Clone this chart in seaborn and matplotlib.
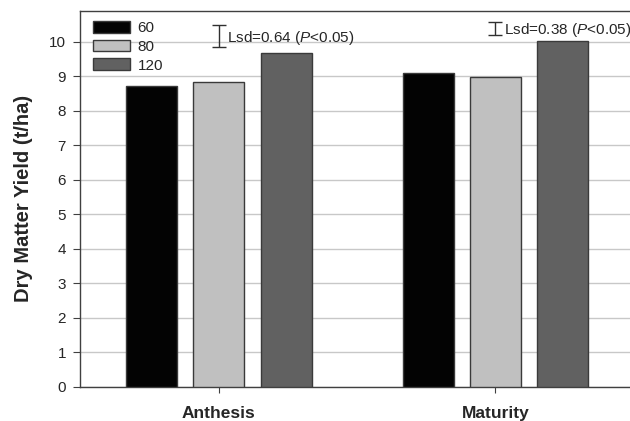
import matplotlib
matplotlib.use('Agg')
import matplotlib.pyplot as plt
import pandas as pd
import seaborn as sns

stages = ['Anthesis', 'Maturity']
rates = ['60', '80', '120']
yield_60 = [8.72, 9.10]
yield_80 = [8.84, 8.99]
yield_120 = [9.67, 10.03]

lsd_labels = ['Lsd=0.64 (', 'Lsd=0.38 (']
lsd_values = [0.64, 0.38]
lsd_centers = [10.18, 10.39]

df = pd.DataFrame({
    'stage': stages * 3,
    'rate': [r for r in rates for _ in stages],
    'yield': yield_60 + yield_80 + yield_120,
})

sns.set_style('white')
plt.rcParams['font.family'] = ['Liberation Sans', 'DejaVu Sans']
plt.rcParams['mathtext.fontset'] = 'custom'
plt.rcParams['mathtext.it'] = 'Liberation Sans:italic'
plt.rcParams['mathtext.rm'] = 'Liberation Sans'

fig = plt.figure(figsize=(6.3, 4.21), dpi=100)
ax = fig.add_axes([0.127, 0.081, 0.879, 0.893])

palette = {'60': '#030303', '80': '#c0c0c0', '120': '#616161'}
sns.barplot(data=df, x='stage', y='yield', hue='rate', hue_order=rates,
            palette=palette, width=0.73, gap=0.24, edgecolor='#3a3a3a',
            linewidth=1.0, saturation=1, ax=ax, zorder=3)

ax.set_ylim(0, 10.9)
ax.set_xlim(-0.502, 1.5)
ax.set_yticks(range(0, 11))
ax.yaxis.grid(True, color='#c8c8c8', linewidth=1.0, zorder=0)
ax.set_axisbelow(True)
for s in ['left', 'bottom', 'top']:
    ax.spines[s].set_color('#404040')
    ax.spines[s].set_linewidth(1.0)
ax.spines['right'].set_visible(False)
ax.tick_params(axis='y', direction='out', length=5, color='#404040',
               labelsize=11, left=True, pad=5)
ax.tick_params(axis='x', direction='out', length=4, color='#404040',
               labelsize=12.5, bottom=True, pad=9.5)
for lab in ax.get_xticklabels():
    lab.set_fontweight('bold')
ax.set_xlabel('')
ax.set_ylabel('Dry Matter Yield (t/ha)', fontsize=14.5, fontweight='bold')
ax.yaxis.set_label_coords(-0.085, 0.5)

# Lsd bars
for i in range(2):
    ax.errorbar(i, lsd_centers[i], yerr=lsd_values[i] / 2, fmt='none',
                ecolor='#303030', elinewidth=1.0, capsize=5, capthick=1.0,
                zorder=5)
    ax.text(i + 0.03, lsd_centers[i] - 0.05,
            lsd_labels[i] + '$\\mathit{P}$<0.05)',
            fontsize=11, va='center', ha='left')

ax.legend(loc='upper left', frameon=False, fontsize=11, title=None,
          handlelength=2.4, handleheight=0.8, labelspacing=0.3,
          handletextpad=0.5, borderaxespad=0.25, bbox_to_anchor=(0.006, 1.0))

fig.savefig('out.png', dpi=100)
